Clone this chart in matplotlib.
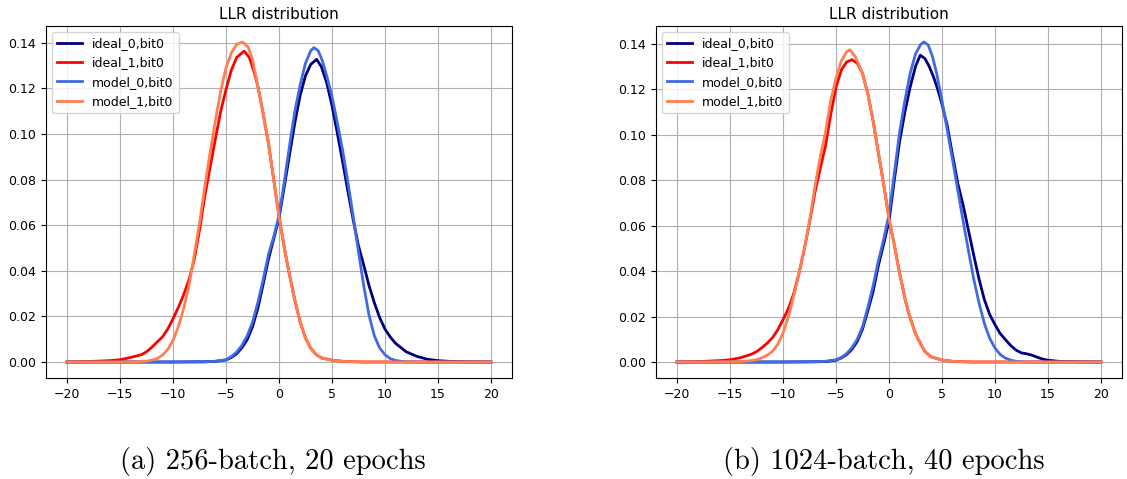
import matplotlib
matplotlib.use("Agg")
import matplotlib.pyplot as plt

plt.rcParams['font.size'] = 9

# ---------------- data: panel (a) 256-batch, 20 epochs ----------------
a_ideal0_x = [-20, -10, -7, -6, -5, -4.5, -4, -3.5, -3, -2.5, -2, -1.5, -1, -0.5, 0, 0.5, 1, 1.5, 2, 2.5, 3, 3.55, 4, 4.5, 5, 5.5, 6, 6.5, 7, 7.5, 8, 8.5, 9, 9.5, 10, 10.5, 11, 12, 13, 14, 15, 16, 18, 20]
a_ideal0_y = [0, 0, 0.0001, 0.0003, 0.0009, 0.002, 0.0036, 0.0063, 0.0098, 0.0155, 0.0235, 0.034, 0.045, 0.054, 0.063, 0.077, 0.091, 0.105, 0.117, 0.1255, 0.1305, 0.1327, 0.1295, 0.1225, 0.1125, 0.1005, 0.088, 0.075, 0.0625, 0.051, 0.0425, 0.0335, 0.026, 0.0195, 0.0145, 0.011, 0.0082, 0.0045, 0.0025, 0.0012, 0.0006, 0.0003, 0.0001, 0]

a_ideal1_x = [-20, -18, -16, -15, -14, -13, -12.5, -12, -11.5, -11, -10.5, -10, -9.5, -9, -8.5, -8, -7.5, -7, -6.5, -6, -5.5, -5, -4.5, -4, -3.3, -2.8, -2.4, -2, -1.5, -1, -0.5, 0, 0.5, 1, 1.5, 2, 2.5, 3, 3.5, 4, 5, 6, 7, 8, 20]
a_ideal1_y = [0, 0.0002, 0.0006, 0.001, 0.002, 0.0032, 0.0045, 0.0065, 0.0088, 0.011, 0.0145, 0.019, 0.024, 0.0295, 0.036, 0.045, 0.058, 0.073, 0.0855, 0.098, 0.110, 0.1195, 0.128, 0.1335, 0.1363, 0.1335, 0.128, 0.121, 0.109, 0.096, 0.080, 0.064, 0.050, 0.038, 0.027, 0.0175, 0.0105, 0.006, 0.0033, 0.0018, 0.0008, 0.0003, 0.0001, 0, 0]

a_model0_x = [-20, -10, -7, -6, -5, -4.5, -4, -3.5, -3, -2.5, -2, -1.5, -1, -0.5, 0, 0.5, 1, 1.5, 2, 2.5, 3, 3.3, 3.7, 4.1, 4.5, 5, 5.5, 6, 6.5, 7, 7.5, 8, 8.5, 9, 9.5, 10, 10.5, 11, 11.5, 12, 13, 20]
a_model0_y = [0, 0, 0.0001, 0.0003, 0.001, 0.0024, 0.0043, 0.0073, 0.0115, 0.0175, 0.026, 0.036, 0.047, 0.055, 0.064, 0.079, 0.095, 0.110, 0.1215, 0.131, 0.1365, 0.1378, 0.1365, 0.132, 0.1255, 0.1166, 0.105, 0.093, 0.079, 0.064, 0.0485, 0.0335, 0.0205, 0.0115, 0.0062, 0.0032, 0.0015, 0.0007, 0.0003, 0.0001, 0, 0]

a_model1_x = [-20, -14, -13, -12.5, -12, -11.5, -11, -10.5, -10, -9.5, -9, -8.5, -8, -7.5, -7, -6.5, -6, -5.5, -5, -4.5, -4, -3.45, -2.9, -2.5, -2, -1.5, -1, -0.5, 0, 0.5, 1, 1.5, 2, 2.5, 3, 3.5, 4, 5, 6, 7, 8, 20]
a_model1_y = [0, 0, 0.0002, 0.0004, 0.0008, 0.0015, 0.003, 0.0055, 0.0095, 0.0155, 0.0235, 0.0335, 0.047, 0.061, 0.077, 0.092, 0.106, 0.119, 0.129, 0.1355, 0.1393, 0.1403, 0.138, 0.1325, 0.121, 0.109, 0.096, 0.080, 0.064, 0.050, 0.038, 0.027, 0.0175, 0.0105, 0.006, 0.0033, 0.0018, 0.0008, 0.0003, 0.0001, 0, 0]

# ---------------- data: panel (b) 1024-batch, 40 epochs ----------------
b_ideal0_x = [-20, -10, -7, -6, -5, -4.5, -4, -3.5, -3, -2.5, -2, -1.5, -1, -0.5, 0, 0.5, 1, 1.5, 2, 2.5, 2.95, 3.4, 3.8, 4.2, 4.6, 5, 5.5, 6, 6.5, 7, 7.5, 8, 8.5, 9, 9.5, 10, 10.5, 11, 11.5, 12, 12.5, 13, 13.5, 14, 14.5, 15, 16, 18, 20]
b_ideal0_y = [0, 0, 0.0001, 0.0002, 0.0008, 0.0018, 0.0033, 0.0056, 0.009, 0.0145, 0.0225, 0.031, 0.0425, 0.052, 0.062, 0.080, 0.097, 0.110, 0.121, 0.130, 0.135, 0.1335, 0.130, 0.1255, 0.120, 0.1135, 0.104, 0.091, 0.0785, 0.069, 0.058, 0.047, 0.0365, 0.0275, 0.021, 0.0165, 0.0125, 0.0098, 0.0072, 0.0052, 0.0040, 0.0036, 0.0030, 0.0021, 0.0013, 0.0008, 0.0003, 0.0001, 0]

b_ideal1_x = [-20, -18, -16, -15, -14, -13, -12.5, -12, -11.5, -11, -10.5, -10, -9.5, -9, -8.5, -8, -7.5, -7, -6.5, -6, -5.5, -5, -4.5, -4, -3.5, -3, -2.5, -2, -1.5, -1, -0.5, 0, 0.5, 0.92, 1.5, 1.85, 2.5, 2.77, 3.38, 4, 5, 6, 7, 8, 20]
b_ideal1_y = [0, 0.0002, 0.0006, 0.001, 0.0019, 0.0034, 0.0046, 0.0063, 0.0083, 0.0107, 0.0142, 0.0187, 0.0235, 0.030, 0.039, 0.0496, 0.0615, 0.0745, 0.085, 0.095, 0.109, 0.121, 0.1285, 0.132, 0.133, 0.1315, 0.127, 0.118, 0.106, 0.092, 0.078, 0.063, 0.0515, 0.041, 0.028, 0.0216, 0.0125, 0.0099, 0.0047, 0.0022, 0.0009, 0.0003, 0.0001, 0, 0]

b_model0_x = [-20, -10, -7, -6, -5, -4.5, -4, -3.5, -3, -2.5, -2, -1.5, -1, -0.5, 0, 0.5, 1, 1.5, 2, 2.5, 3, 3.3, 3.7, 4.1, 4.5, 5, 5.5, 6, 6.5, 7, 7.5, 8, 8.5, 9, 9.5, 10, 10.5, 11, 11.5, 12, 13, 20]
b_model0_y = [0, 0, 0.0001, 0.0003, 0.001, 0.002, 0.0037, 0.0063, 0.01, 0.0155, 0.024, 0.0335, 0.0445, 0.054, 0.065, 0.083, 0.101, 0.115, 0.127, 0.1355, 0.1398, 0.1408, 0.1395, 0.1345, 0.127, 0.115, 0.102, 0.089, 0.0755, 0.062, 0.049, 0.0365, 0.026, 0.017, 0.0105, 0.0062, 0.0033, 0.0017, 0.0008, 0.0003, 0, 0]

b_model1_x = [-20, -15, -14, -13, -12.5, -12, -11.5, -11, -10.5, -10, -9.5, -9, -8.5, -8, -7.5, -7, -6.5, -6, -5.5, -5, -4.5, -4, -3.7, -3.2, -2.5, -2, -1.5, -1, -0.5, 0, 0.5, 0.92, 1.5, 1.85, 2.5, 2.77, 3.38, 4, 5, 6, 7, 8, 20]
b_model1_y = [0, 0.0001, 0.0002, 0.0006, 0.001, 0.0018, 0.003, 0.0047, 0.0078, 0.0128, 0.020, 0.029, 0.039, 0.0496, 0.062, 0.077, 0.090, 0.101, 0.115, 0.125, 0.1325, 0.1365, 0.1374, 0.1345, 0.127, 0.118, 0.106, 0.092, 0.078, 0.063, 0.0515, 0.041, 0.028, 0.0216, 0.0125, 0.0099, 0.0047, 0.0022, 0.0009, 0.0003, 0.0001, 0, 0]

labels = ["ideal_0,bit0", "ideal_1,bit0", "model_0,bit0", "model_1,bit0"]
colors = ["navy", "red", "royalblue", "coral"]
title = "LLR distribution"
captions = ["(a) 256-batch, 20 epochs", "(b) 1024-batch, 40 epochs"]

panels = [
    [(a_ideal0_x, a_ideal0_y), (a_ideal1_x, a_ideal1_y), (a_model0_x, a_model0_y), (a_model1_x, a_model1_y)],
    [(b_ideal0_x, b_ideal0_y), (b_ideal1_x, b_ideal1_y), (b_model0_x, b_model0_y), (b_model1_x, b_model1_y)],
]

fig = plt.figure(figsize=(11.27, 4.79), dpi=100)
W, H = 1127, 479
axes_px = [(46, 512), (656, 1122)]
top_px, bot_px = 26, 378

for (l, r), series, cap in zip(axes_px, panels, captions):
    ax = fig.add_axes([l / W, 1 - bot_px / H, (r - l) / W, (bot_px - top_px) / H])
    for (xs, ys), lab, col in zip(series, labels, colors):
        ax.plot(xs, ys, color=col, lw=2, label=lab, solid_joinstyle='round')
    ax.set_xticks([-20, -15, -10, -5, 0, 5, 10, 15, 20])
    ax.set_yticks([0.00, 0.02, 0.04, 0.06, 0.08, 0.10, 0.12, 0.14])
    ax.set_yticklabels(["0.00", "0.02", "0.04", "0.06", "0.08", "0.10", "0.12", "0.14"])
    ax.grid(True)
    ax.set_title(title, fontsize=11, pad=5)
    ax.legend(loc="upper left")
    fig.text((l + r) / 2 / W - 0.005, 1 - 462 / H, cap, family="cmr10", fontsize=20.5,
             ha="center", va="center")

fig.savefig("out.png", dpi=100)
